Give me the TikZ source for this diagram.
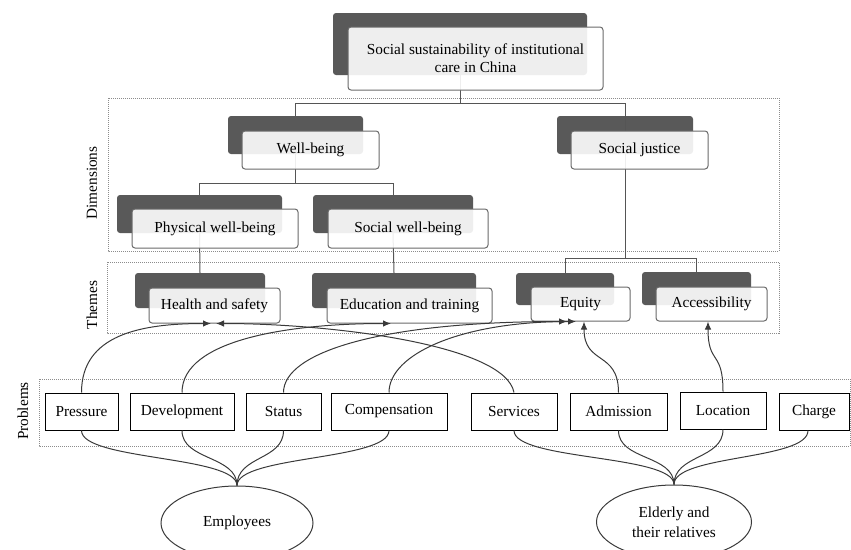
\documentclass[tikz,border=0pt]{standalone}
\usepackage{fontspec}
\setmainfont{Liberation Serif}
\usetikzlibrary{shapes.geometric,arrows.meta,calc}
\definecolor{darkfill}{HTML}{595959}
\definecolor{frontline}{HTML}{6A6A6A}
\definecolor{conline}{HTML}{3A3A3A}
\definecolor{hierline}{HTML}{555555}
\definecolor{grpline}{HTML}{8C8C8C}
\begin{document}
\begin{tikzpicture}[x=1pt,y=-1pt,
 darkbox/.style={fill=darkfill, rounded corners=3pt, inner sep=0pt, draw=none},
 frontbox/.style={fill=white, fill opacity=0.9, text opacity=1, draw=frontline, line width=1pt, rounded corners=3pt, inner sep=0pt, font=\fontsize{15.3}{18}\selectfont, align=center},
 probbox/.style={draw=black, line width=1pt, fill=white, inner sep=0pt, minimum height=37pt, font=\fontsize{15.3}{18}\selectfont},
 grp/.style={draw=grpline, line width=0.6pt, dash pattern=on 1pt off 1pt},
 conn/.style={draw=hierline, line width=1pt},
 curve/.style={draw=conline, line width=1pt},
 arr/.style={curve, -{Latex[length=8pt,width=6.5pt]}},
 grplabel/.style={rotate=90, font=\fontsize{15.3}{18}\selectfont},
 pop/.style={draw=conline, line width=1pt, ellipse, inner sep=0pt, align=center, font=\fontsize{15.3}{20}\selectfont}
]
\useasboundingbox (0,0) rectangle (851,549);
\clip (0,0) rectangle (851,549);

% group frames
\draw[grp] (108,98) rectangle (779,251);
\draw[grp] (107,262) rectangle (779,333);
\draw[grp] (39,379) rectangle (850,446);
\node[grplabel] (lbdim) at (92,183) {Dimensions};
\node[grplabel] (lbthe) at (92,305) {Themes};
\node[grplabel] (lbpro) at (23,411) {Problems};

% level coordinates
\coordinate (lvA) at (0,103);
\coordinate (lvB) at (0,183);
\coordinate (lvC) at (0,258);

% dark back boxes
\node[darkbox, minimum width=254pt, minimum height=62pt] (topd) at (460,44) {};
\node[darkbox, minimum width=135pt, minimum height=38pt] (wbd) at (295.5,135) {};
\node[darkbox, minimum width=165pt, minimum height=38pt] (pwd) at (199.5,214) {};
\node[darkbox, minimum width=160pt, minimum height=38pt] (swd) at (393,214) {};
\node[darkbox, minimum width=136pt, minimum height=38pt] (sjd) at (625,135) {};
\node[darkbox, minimum width=130pt, minimum height=35pt] (hsd) at (200,290.5) {};
\node[darkbox, minimum width=164pt, minimum height=35pt] (etd) at (394,290.5) {};
\node[darkbox, minimum width=98pt, minimum height=32pt] (eqd) at (565,289) {};
\node[darkbox, minimum width=109pt, minimum height=33pt] (acd) at (696.5,288.5) {};

% hierarchy connectors
\draw[conn] (topd.south) -- (topd.south |- lvA);
\draw[conn] (wbd.north) |- (sjd.north |- lvA) -- (sjd.north);
\draw[conn] (sjd.north) -- (sjd.north |- lvC);
\draw[conn] (eqd.north) |- (acd.north |- lvC) -- (acd.north);
\draw[conn] (wbd.south) -- (wbd.south |- lvB);
\draw[conn] (pwd.north) |- (swd.north |- lvB) -- (swd.north);
\draw[conn] (pwd.south) -- (hsd.north);
\draw[conn] (swd.south) -- (etd.north);

% front boxes
\node[frontbox, minimum width=255pt, minimum height=63pt] (topf) at (475.5,58.5) {Social sustainability of institutional\\care in China};
\node[frontbox, minimum width=137pt, minimum height=38pt] (wbf) at (310.5,150) {Well-being};
\node[frontbox, minimum width=166pt, minimum height=39pt] (pwf) at (215,228.5) {Physical well-being};
\node[frontbox, minimum width=160pt, minimum height=39pt] (swf) at (408,228.5) {Social well-being};
\node[frontbox, minimum width=137pt, minimum height=38pt] (sjf) at (639.5,150) {Social justice};
\node[frontbox, minimum width=131pt, minimum height=35pt] (hsf) at (214.5,305.5) {Health and safety};
\node[frontbox, minimum width=165pt, minimum height=35pt] (etf) at (409.5,305.5) {Education and training};
\node[frontbox, minimum width=99pt, minimum height=34pt] (eqf) at (580.5,304) {Equity};
\node[frontbox, minimum width=111pt, minimum height=34pt] (acf) at (711.5,304) {Accessibility};

% problem boxes
\node[probbox, minimum width=73pt] (pr) at (81.5,411.5) {Pressure};
\node[probbox, minimum width=104pt] (dv) at (182,411.5) {Development};
\node[probbox, minimum width=75pt] (st) at (283.5,411.5) {Status};
\node[probbox, minimum width=116pt] (cp) at (389,411.5) {Compensation};
\node[probbox, minimum width=86pt] (sv) at (514,411.5) {Services};
\node[probbox, minimum width=97pt] (ad) at (618.5,411.5) {Admission};
\node[probbox, minimum width=86pt] (lo) at (723,410.5) {Location};
\node[probbox, minimum width=70pt] (ch) at (814,411.5) {Charge};

% stakeholders
\node[pop, minimum width=152pt, minimum height=74pt] (emp) at (237,523) {Employees};
\node[pop, minimum width=155pt, minimum height=74pt] (eld) at (674,522) {Elderly and\\their relatives};

% arrow end points
\coordinate (hsL) at ($(hsf.south)+(-3.5,0)$);
\coordinate (hsR) at ($(hsf.south)+(1.5,0)$);
\coordinate (etL) at ($(etf.south)+(-18.5,0)$);
\coordinate (eqA) at ($(eqf.south)+(-13.5,0)$);
\coordinate (eqB) at ($(eqf.south)+(-4.5,0)$);
\coordinate (eqC) at ($(eqf.south)+(3.5,0)$);
\coordinate (acA) at ($(acf.south)+(-3.5,0)$);
\coordinate (chS) at ($(ch.south)+(-6,0)$);

% problem -> theme arrows
\draw[arr] (pr.north) .. controls +(0,-58) and +(-70,0) .. (hsL);
\draw[arr] (sv.north) .. controls +(-9,-48) and +(114,0) .. (hsR);
\draw[arr] (dv.north) .. controls +(0,-53) and +(-101,0) .. (etL);
\draw[arr] (st.north) .. controls +(0,-40) and +(-187,0) .. (eqA);
\draw[arr] (cp.north) .. controls +(0,-38) and +(-116,0) .. (eqB);
\draw[arr] (ad.north) .. controls +(0,-42) and +(0,44) .. (eqC);
\draw[arr] (lo.north) .. controls +(0,-42) and +(0,44) .. (acA);

% problem -> stakeholder links
\foreach \n in {pr,dv,st,cp}
  \draw[curve] (\n.south) .. controls +(0,30) and +(0,-30) .. (emp.north);
\foreach \n in {sv,ad,lo}
  \draw[curve] (\n.south) .. controls +(0,30) and +(0,-30) .. (eld.north);
\draw[curve] (chS) .. controls +(0,30) and +(0,-30) .. (eld.north);
\end{tikzpicture}
\end{document}
